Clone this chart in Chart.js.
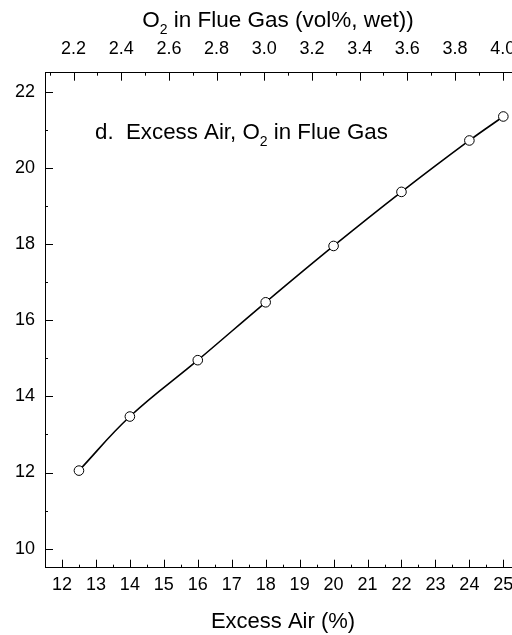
<!DOCTYPE html>
<html><head><meta charset="utf-8">
<script src="https://cdn.jsdelivr.net/npm/chart.js@4.4.0/dist/chart.umd.min.js"></script>
<style>html,body{margin:0;padding:0;overflow:hidden;background:#fff;width:512px;height:635px}#wrap{width:530px;height:635px}</style>
</head><body><div id="wrap"><canvas id="c" width="530" height="635"></canvas></div>
<script>
const excessAir = [12.5, 14, 16, 18, 20, 22, 24, 25];
const yValues = [12.05, 13.47, 14.95, 16.47, 17.95, 19.37, 20.72, 21.35];
const bottomTicks = [12,13,14,15,16,17,18,19,20,21,22,23,24,25];
const topTicks = [2.2,2.4,2.6,2.8,3.0,3.2,3.4,3.6,3.8,4.0];
const leftTicks = [10,12,14,16,18,20,22];
const topTitle = [{t:'O'},{t:'2',sub:true},{t:' in Flue Gas (vol%, wet))'}];
const bottomTitle = 'Excess Air (%)';
const note = [{t:'d.  Excess Air, O'},{t:'2',sub:true},{t:' in Flue Gas'}];

const FONT = '"Liberation Sans", Arial, Helvetica, sans-serif';

function drawRich(ctx, parts, x, y, size, align) {
  const subSize = Math.round(size*0.62);
  let w = 0;
  parts.forEach(p => { ctx.font = (p.sub?subSize:size)+'px '+FONT; w += ctx.measureText(p.t).width; });
  let cx = align === 'center' ? x - w/2 : x;
  ctx.textBaseline = 'alphabetic'; ctx.textAlign = 'left'; ctx.fillStyle = '#000';
  parts.forEach(p => {
    ctx.font = (p.sub?subSize:size)+'px '+FONT;
    ctx.fillText(p.t, cx, p.sub ? y + size*0.3 : y);
    cx += ctx.measureText(p.t).width;
  });
}

function range(a,b,s){const r=[];for(let v=a;v<=b+1e-9;v+=s)r.push(+v.toFixed(4));return r;}

const tickPlugin = {
  id:'ticksAndText',
  afterDraw(chart){
    const ctx = chart.ctx, a = chart.chartArea, s = chart.scales;
    ctx.save();
    ctx.strokeStyle = '#000'; ctx.lineWidth = 1;
    ctx.beginPath();
    const hx = (sc, vals, len, yEdge, dir) => vals.forEach(v=>{const p=Math.round(sc.getPixelForValue(v))+0.5; ctx.moveTo(p,yEdge); ctx.lineTo(p,yEdge+dir*len);});
    const vy = (sc, vals, len, xEdge, dir) => vals.forEach(v=>{const p=Math.round(sc.getPixelForValue(v))+0.5; ctx.moveTo(xEdge,p); ctx.lineTo(xEdge+dir*len,p);});
    hx(s.x, bottomTicks, 8, a.bottom, -1);
    hx(s.x, range(11.5,25.5,1), 3, a.bottom, -1);
    hx(s.x2, topTicks, 8, a.top, 1);
    hx(s.x2, range(2.1,4.0,0.2), 3, a.top, 1);
    vy(s.y, leftTicks, 8, a.left, 1);
    vy(s.y, range(11,21,2), 3, a.left, 1);
    vy(s.y2, leftTicks, 8, a.right, -1);
    vy(s.y2, range(11,21,2), 3, a.right, -1);
    ctx.stroke();
    drawRich(ctx, topTitle, 278, 27, 22.5, 'center');
    drawRich(ctx, [{t:bottomTitle}], 283, 628, 22, 'center');
    drawRich(ctx, note, 95, 139, 22.3, 'left');
    ctx.restore();
  }
};

const tickFont = {family: FONT, size: 18};
new Chart(document.getElementById('c'), {
  type:'line',
  data:{ datasets:[{
    data: excessAir.map((x,i)=>({x, y:yValues[i]})),
    xAxisID:'x', yAxisID:'y',
    borderColor:'#000', borderWidth:1.6, tension:0.4,
    pointRadius:4.8, pointBackgroundColor:'#fff', pointBorderColor:'#000', pointBorderWidth:1,
    fill:false
  }]},
  options:{
    responsive:false, animation:false, events:[],
    layout:{padding:0},
    plugins:{legend:{display:false}, tooltip:{enabled:false}},
    scales:{
      x:{type:'linear', position:'bottom', min:11.5, max:25.5,
         afterFit(sc){sc.height=67.3;},
         afterBuildTicks(sc){sc.ticks = bottomTicks.map(v=>({value:v}));},
         ticks:{font:tickFont, color:'#000', padding:7, maxRotation:0, autoSkip:false, includeBounds:false},
         grid:{display:false, drawTicks:false}, border:{display:true, color:'#000', width:1}},
      x2:{type:'linear', position:'top', min:2.08, max:4.074,
         afterFit(sc){sc.height=72.7;},
         afterBuildTicks(sc){sc.ticks = topTicks.map(v=>({value:v}));},
         ticks:{font:tickFont, color:'#000', padding:12.5, maxRotation:0, autoSkip:false, includeBounds:false, callback:v=>Number(v).toFixed(1)},
         grid:{display:false, drawTicks:false}, border:{display:true, color:'#000', width:1}},
      y:{type:'linear', position:'left', min:9.5, max:22.5,
         afterFit(sc){sc.width=45;},
         afterBuildTicks(sc){sc.ticks = leftTicks.map(v=>({value:v}));},
         ticks:{font:tickFont, color:'#000', padding:10, autoSkip:false, includeBounds:false},
         grid:{display:false, drawTicks:false}, border:{display:true, color:'#000', width:1}},
      y2:{type:'linear', position:'right', min:9.5, max:22.5,
         afterFit(sc){sc.width=9.7;},
         ticks:{display:false},
         grid:{display:false, drawTicks:false}, border:{display:true, color:'#000', width:1}}
    }
  },
  plugins:[tickPlugin]
});
</script></body></html>
